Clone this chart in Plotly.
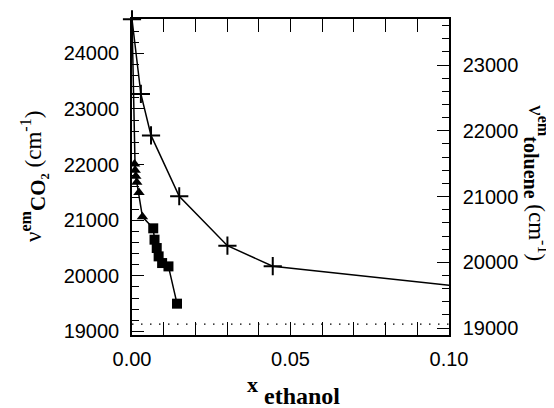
import plotly.graph_objects as go

# CO2 emission series (left axis): start point, triangles, squares
co2_start_x = [0.0]
co2_start_y = [24616]
tri_x = [0.0008, 0.0010, 0.0012, 0.0015, 0.0022, 0.0033]
tri_y = [22010, 21900, 21790, 21680, 21500, 21060]
sq_x = [0.0067, 0.0071, 0.0078, 0.0084, 0.0095, 0.0115, 0.0142]
sq_y = [20854, 20650, 20500, 20350, 20230, 20170, 19500]

# toluene emission series (right axis); last point lies beyond the visible range
tol_x = [0.0, 0.0028, 0.0060, 0.0149, 0.0301, 0.0444, 0.2]
tol_y = [23696, 22560, 21930, 21005, 20253, 19941, 19130]

ref_level = [19134]

x_ticks = [0.0, 0.05, 0.10]
x_ticklabels = ["0.00", "0.05", "0.10"]

line_black = dict(color="black", width=1.5)

fig = go.Figure()

fig.add_trace(go.Scatter(
    x=co2_start_x + tri_x + sq_x, y=co2_start_y + tri_y + sq_y,
    mode="lines", line=line_black, showlegend=False, yaxis="y"))
fig.add_trace(go.Scatter(
    x=tri_x, y=tri_y, mode="markers",
    marker=dict(symbol="triangle-up", size=10, color="black"),
    showlegend=False, yaxis="y"))
fig.add_trace(go.Scatter(
    x=sq_x, y=sq_y, mode="markers",
    marker=dict(symbol="square", size=10, color="black"),
    showlegend=False, yaxis="y"))
fig.add_trace(go.Scatter(
    x=tol_x, y=tol_y, mode="lines", line=line_black,
    showlegend=False, yaxis="y2"))
fig.add_trace(go.Scatter(
    x=tol_x[:-1], y=tol_y[:-1], mode="markers", cliponaxis=False,
    marker=dict(symbol="cross-thin", size=13, color="black",
                line=dict(color="black", width=2)),
    showlegend=False, yaxis="y2"))
fig.add_trace(go.Scatter(
    x=[0, 0.1], y=ref_level * 2, mode="lines",
    line=dict(color="black", width=1.2, dash="1.5px,7.5px"),
    showlegend=False, yaxis="y"))

tickfont = dict(family="Liberation Sans, Arial, sans-serif", size=20, color="black")

# the page body has an 8px margin, so the figure is sized/margined to compensate
fig.update_layout(
    width=546, height=400,
    margin=dict(l=124, r=105, t=9, b=73),
    paper_bgcolor="white", plot_bgcolor="white",
    xaxis=dict(
        range=[0, 0.1], tickvals=x_ticks, ticktext=x_ticklabels,
        ticks="inside", ticklen=13, tickwidth=1.2, tickcolor="black",
        minor=dict(dtick=0.01, ticks="inside", ticklen=7, tickcolor="black", tickwidth=1.2),
        showline=True, linecolor="black", linewidth=1.5, mirror="allticks",
        showgrid=False, zeroline=False, tickfont=tickfont, ticklabelstandoff=5,
    ),
    yaxis=dict(
        range=[18937, 24616], dtick=1000, tick0=19000, tickformat="d",
        ticks="inside", ticklen=12, tickwidth=1.2, tickcolor="black",
        minor=dict(dtick=200, ticks="inside", ticklen=7, tickcolor="black", tickwidth=1.2),
        showline=True, linecolor="black", linewidth=1.5,
        showgrid=False, zeroline=False, tickfont=tickfont, ticklabelstandoff=7,
    ),
    yaxis2=dict(
        range=[18895, 23700], dtick=1000, tick0=19000, tickformat="d",
        overlaying="y", side="right",
        ticks="inside", ticklen=12, tickwidth=1.2, tickcolor="black",
        minor=dict(dtick=200, ticks="inside", ticklen=7, tickcolor="black", tickwidth=1.2),
        showline=True, linecolor="black", linewidth=1.5,
        showgrid=False, zeroline=False, tickfont=tickfont, ticklabelstandoff=8,
    ),
)

serif = "Liberation Serif, Times New Roman, serif"
fig.add_annotation(
    text="ν<sup><b>em</b></sup><sub><b><span style='font-size:21px'>CO₂</span></b></sub> (cm<sup>-1</sup>)",
    xref="paper", yref="paper", x=(33 - 132) / 317, y=0.5, textangle=-90,
    showarrow=False, xanchor="center", yanchor="middle",
    font=dict(family=serif, size=23, color="black"))
fig.add_annotation(
    text="ν<sup><b>em</b></sup><sub><b><span style='font-size:20px'>toluene</span></b></sub> (cm<sup>-1</sup>)",
    xref="paper", yref="paper", x=(536 - 132) / 317, y=0.48, textangle=90,
    showarrow=False, xanchor="center", yanchor="middle",
    font=dict(family=serif, size=23, color="black"))
fig.add_annotation(
    text="<b>x</b>", xref="paper", yref="paper", x=(252 - 132) / 317, y=(335 - 385) / 318,
    showarrow=False, xanchor="center", yanchor="middle",
    font=dict(family=serif, size=22, color="black"))
fig.add_annotation(
    text="<b>ethanol</b>", xref="paper", yref="paper", x=(302 - 132) / 317, y=(335 - 396) / 318,
    showarrow=False, xanchor="center", yanchor="middle",
    font=dict(family=serif, size=24, color="black"))

fig.write_html("out.html")
